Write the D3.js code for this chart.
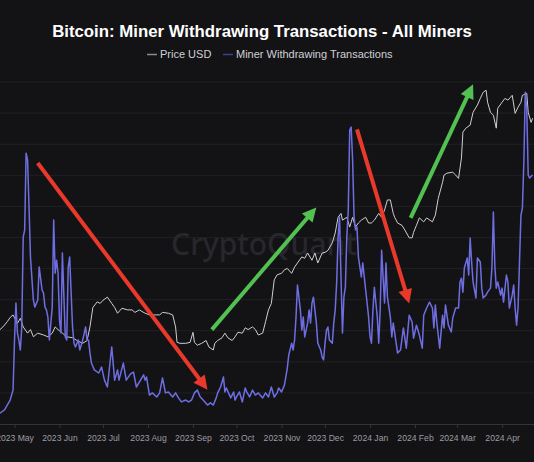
<!DOCTYPE html>
<html lang="en">
<head>
<meta charset="utf-8">
<title>Bitcoin: Miner Withdrawing Transactions - All Miners</title>
<style>
  body { margin:0; background:#131316; }
  svg { display:block; font-family:"Liberation Sans", Arial, sans-serif; }
  .title { font-size:16.8px; font-weight:bold; fill:#ffffff; }
  .legend text { font-size:11px; fill:#d0d0d4; }
  .axis text { font-size:8.6px; fill:#9c9ca3; font-family:"Liberation Sans", Arial, sans-serif; }
  .axis path, .axis line { stroke:#34343a; }
  .grid line { stroke:#202025; }
  .watermark { font-size:30px; font-family:"Noto Sans", "Open Sans", sans-serif; font-weight:500; fill:#27272c; }
</style>
</head>
<body>
<svg class="chart"></svg>
<script src="https://cdnjs.cloudflare.com/ajax/libs/d3/7.8.5/d3.min.js"></script>
<script>
// days counted from 2023-04-21
var startDate = new Date(Date.UTC(2023, 3, 21));
var endDate = new Date(Date.UTC(2024, 3, 23));

var monthLabels = ["2023 May", "2023 Jun", "2023 Jul", "2023 Aug", "2023 Sep", "2023 Oct",
                   "2023 Nov", "2023 Dec", "2024 Jan", "2024 Feb", "2024 Mar", "2024 Apr"];

// BTC price (USD)
var priceDays = [
  0, 2, 5, 7, 9, 12, 14, 16, 19, 21,
  23, 26, 30, 33, 36, 38, 40, 43, 46, 50,
  53, 57, 60, 62, 64, 67, 69, 71, 74, 77,
  79, 81, 84, 88, 91, 93, 96, 100, 103, 107,
  110, 112, 116, 119, 121, 122, 124, 128, 131, 133,
  134, 136, 139, 142, 144, 147, 148, 150, 153, 155,
  157, 160, 162, 164, 167, 169, 171, 174, 176, 178,
  181, 183, 185, 187, 189, 191, 194, 196, 198, 201,
  203, 205, 208, 210, 212, 215, 217, 219, 222, 224,
  226, 229, 231, 233, 235, 236, 239, 241, 243, 245,
  247, 249, 252, 254, 256, 258, 261, 263, 265, 267,
  269, 271, 272, 274, 277, 279, 282, 284, 285, 287,
  289, 292, 294, 298, 300, 302, 305, 306, 308, 312,
  314, 316, 318, 319, 321, 324, 326, 329, 331, 333,
  335, 336, 338, 340, 342, 343, 346, 348, 350, 353,
  355, 357, 359, 360, 363, 364, 366, 367
];
var priceUsd = [
  27500, 27800, 28400, 28900, 29200, 28200, 28800, 27800, 27100, 27500,
  26700, 27100, 26900, 26700, 27100, 27800, 27500, 27100, 26700, 26600,
  26300, 26000, 26300, 27800, 30100, 30800, 30600, 31000, 31400, 30600,
  30100, 29400, 30000, 29800, 29800, 29500, 29800, 29400, 29200, 29200,
  29200, 29500, 29400, 29200, 27800, 26100, 26000, 26000, 26100, 27200,
  26100, 25800, 26000, 26300, 25600, 25300, 26000, 26300, 26600, 27100,
  26600, 26300, 26700, 27200, 27100, 27700, 27500, 27800, 27500, 26900,
  27100, 28400, 29800, 30600, 33700, 34400, 34600, 35100, 35300, 34600,
  35500, 36100, 37000, 36800, 37600, 36500, 37600, 36100, 37600, 37700,
  38000, 39200, 40800, 43500, 44200, 43000, 43500, 41800, 43500, 41800,
  42500, 43000, 43500, 42500, 42500, 43000, 44200, 43500, 44800, 46700,
  46700, 44200, 43500, 42500, 42100, 41300, 40000, 40000, 40900, 42100,
  43400, 42700, 43400, 42700, 43900, 47000, 50200, 51700, 52100, 52300,
  51700, 51000, 55400, 61600, 62600, 63400, 66800, 68800, 70700, 72500,
  73100, 69600, 66800, 66000, 62600, 67900, 69600, 70700, 70200, 71600,
  66500, 68200, 69600, 71600, 72200, 66800, 64100, 65200
];

// Miner withdrawing transactions
var txDays = [
  0, 3, 7, 9, 10, 11, 12, 13, 14, 15,
  16, 17, 18, 19, 20, 21, 23, 24, 26, 27,
  29, 30, 31, 32, 33, 34, 36, 37, 38, 39,
  40, 41, 42, 43, 45, 46, 47, 48, 50, 51,
  52, 54, 55, 57, 59, 60, 61, 62, 63, 65,
  68, 70, 72, 74, 77, 79, 81, 82, 85, 87,
  90, 92, 94, 96, 99, 100, 101, 103, 105, 108,
  110, 112, 114, 116, 119, 121, 123, 125, 128, 130,
  132, 134, 136, 138, 140, 143, 145, 147, 149, 150,
  152, 154, 155, 156, 159, 161, 162, 163, 165, 167,
  169, 170, 172, 174, 176, 178, 181, 183, 185, 187,
  189, 191, 192, 194, 196, 198, 199, 201, 202, 203,
  204, 205, 207, 208, 209, 210, 212, 213, 214, 215,
  216, 217, 218, 219, 221, 222, 223, 224, 225, 226,
  227, 229, 230, 231, 232, 233, 234, 235, 236, 237,
  238, 239, 240, 241, 242, 243, 244, 245, 246, 247,
  249, 250, 252, 253, 254, 255, 256, 257, 258, 260,
  261, 262, 263, 264, 265, 266, 267, 269, 270, 271,
  273, 274, 276, 278, 280, 282, 284, 285, 287, 289,
  291, 292, 294, 296, 298, 299, 300, 301, 303, 305,
  306, 307, 309, 311, 312, 314, 316, 317, 318, 319,
  320, 322, 323, 324, 325, 326, 328, 329, 331, 332,
  333, 335, 336, 338, 339, 340, 341, 342, 343, 345,
  346, 347, 348, 349, 350, 351, 353, 354, 355, 356,
  357, 358, 359, 360, 361, 362, 363, 364, 365, 367
];
var txCount = [
  35, 45, 77, 109, 270, 389, 293, 270, 238, 312,
  601, 624, 871, 849, 698, 537, 399, 376, 399, 505,
  431, 421, 376, 367, 344, 270, 376, 656, 485, 527,
  485, 334, 293, 550, 280, 270, 505, 537, 312, 260,
  248, 270, 238, 270, 312, 270, 270, 228, 196, 174,
  164, 183, 141, 119, 248, 141, 174, 141, 196, 141,
  161, 167, 119, 135, 158, 141, 151, 93, 100, 87,
  100, 148, 100, 103, 87, 100, 84, 71, 77, 71,
  77, 100, 109, 87, 77, 61, 68, 61, 84, 100,
  119, 151, 103, 116, 84, 103, 77, 87, 103, 71,
  116, 103, 87, 109, 93, 100, 84, 100, 87, 119,
  87, 100, 116, 103, 125, 180, 222, 260, 238, 270,
  344, 447, 367, 302, 344, 280, 325, 367, 325, 389,
  408, 367, 325, 260, 238, 215, 206, 260, 302, 312,
  270, 260, 325, 367, 453, 601, 666, 473, 293, 408,
  440, 601, 688, 945, 955, 849, 666, 624, 633, 537,
  473, 518, 431, 389, 344, 280, 260, 367, 440, 344,
  260, 367, 559, 473, 389, 518, 408, 344, 280, 325,
  260, 228, 238, 309, 244, 350, 328, 276, 318, 286,
  244, 350, 373, 392, 373, 309, 383, 328, 244, 350,
  309, 383, 318, 296, 341, 373, 373, 457, 469, 424,
  502, 534, 479, 598, 521, 457, 405, 534, 521, 437,
  405, 415, 424, 437, 502, 682, 511, 437, 457, 415,
  437, 392, 437, 479, 457, 373, 415, 447, 373, 318,
  373, 521, 672, 694, 842, 1067, 1016, 801, 791, 801
];

// trend arrows drawn on the chart: [day, price] -> [day, price]
var arrowFrom = [[26, 54300], [146, 27500], [246, 62300], [283, 43400]];
var arrowTo   = [[143, 21500], [218, 45300], [282, 30600], [326, 74900]];
var arrowColor = ["#e8392b", "#52c152", "#e8392b", "#52c152"];

var width = 534, height = 462;
var plotTop = 82, plotBottom = 424;

var svg = d3.select(".chart")
    .attr("width", width)
    .attr("height", height);

svg.append("rect")
    .attr("width", width).attr("height", height)
    .attr("fill", "#131316");

var day = function(n){ return d3.utcDay.offset(startDate, n); };

var x = d3.scaleUtc()
    .domain([startDate, endDate])
    .range([0, width]);

var yTx = d3.scaleLinear()
    .domain([0, 1100])
    .range([plotBottom, plotTop]);

var yPrice = d3.scaleLog()
    .domain([18700, 75600])
    .range([plotBottom, plotTop]);

// grid
svg.append("g")
    .attr("class", "grid")
  .selectAll("line")
    .data(d3.range(100, 1101, 100))
  .enter().append("line")
    .attr("x1", 0).attr("x2", width)
    .attr("y1", function(d){ return yTx(d); })
    .attr("y2", function(d){ return yTx(d); });

// watermark
svg.append("text")
    .attr("class", "watermark")
    .attr("x", 264).attr("y", 255)
    .attr("text-anchor", "middle")
    .text("CryptoQuant");

// x axis
var months = d3.utcMonth.range(new Date(Date.UTC(2023, 4, 1)), new Date(Date.UTC(2024, 4, 1)));
var xAxis = d3.axisBottom(x)
    .tickValues(months)
    .tickSize(4)
    .tickPadding(7)
    .tickFormat(function(d, i){ return monthLabels[i]; });

svg.append("g")
    .attr("class", "axis")
    .attr("transform", "translate(0," + plotBottom + ")")
    .call(xAxis)
    .call(function(g){ g.select(".domain").attr("d", "M0,0.5H" + width); });

// price line
var priceLine = d3.line()
    .x(function(d){ return x(day(d[0])); })
    .y(function(d){ return yPrice(d[1]); });

svg.append("path")
    .datum(d3.zip(priceDays, priceUsd))
    .attr("fill", "none")
    .attr("stroke", "#cfcfd2")
    .attr("stroke-width", 1)
    .attr("d", priceLine);

// transactions line
var txLine = d3.line()
    .x(function(d){ return x(day(d[0])); })
    .y(function(d){ return yTx(d[1]); });

svg.append("path")
    .datum(d3.zip(txDays, txCount))
    .attr("fill", "none")
    .attr("stroke", "#6e6ee2")
    .attr("stroke-width", 1.5)
    .attr("stroke-linejoin", "round")
    .attr("d", txLine);

// arrows
var arrowG = svg.append("g").attr("class", "arrows");
arrowFrom.forEach(function(f, i){
  var x0 = x(day(f[0])), y0 = yPrice(f[1]);
  var x1 = x(day(arrowTo[i][0])), y1 = yPrice(arrowTo[i][1]);
  var a = Math.atan2(y1 - y0, x1 - x0);
  var headLen = 14, headW = 7;
  var bx = x1 - headLen * Math.cos(a), by = y1 - headLen * Math.sin(a);
  arrowG.append("line")
      .attr("x1", x0).attr("y1", y0)
      .attr("x2", bx + 2 * Math.cos(a)).attr("y2", by + 2 * Math.sin(a))
      .attr("stroke", arrowColor[i])
      .attr("stroke-width", 4)
      .attr("stroke-linecap", "butt");
  var pts = [
    [x1, y1],
    [bx - headW * Math.sin(a), by + headW * Math.cos(a)],
    [bx + headW * Math.sin(a), by - headW * Math.cos(a)]
  ];
  arrowG.append("polygon")
      .attr("points", pts.map(function(p){ return p.join(","); }).join(" "))
      .attr("fill", arrowColor[i]);
});

// title
svg.append("text")
    .attr("class", "title")
    .attr("x", 262).attr("y", 37)
    .attr("text-anchor", "middle")
    .text("Bitcoin: Miner Withdrawing Transactions - All Miners");

// legend
var legend = svg.append("g").attr("class", "legend");
legend.append("line")
    .attr("x1", 147).attr("x2", 157).attr("y1", 54.5).attr("y2", 54.5)
    .attr("stroke", "#8a8a8f").attr("stroke-width", 1.5);
legend.append("text").attr("x", 160).attr("y", 58).text("Price USD");
legend.append("line")
    .attr("x1", 223).attr("x2", 233).attr("y1", 54.5).attr("y2", 54.5)
    .attr("stroke", "#3f3d92").attr("stroke-width", 1.5);
legend.append("text").attr("x", 236).attr("y", 58).text("Miner Withdrawing Transactions");
</script>
</body>
</html>
